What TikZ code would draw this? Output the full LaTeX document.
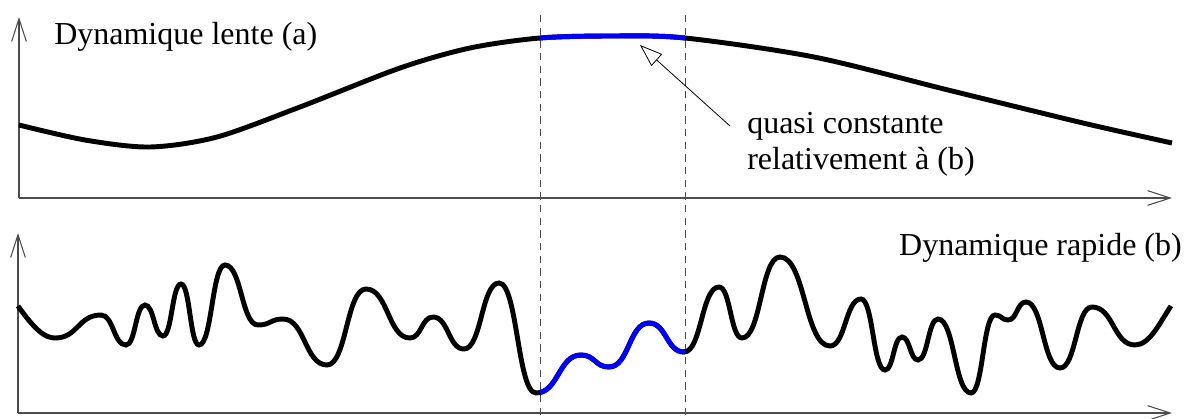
\documentclass[tikz,border=0pt]{standalone}
\usepackage{fontspec}
\setmainfont{Liberation Serif}
\usetikzlibrary{arrows.meta}

\tikzset{
  axe/.style={line width=0.8pt, black!70, -{Straight Barb[length=17pt,width=11pt]}},
  courbe/.style={line width=3.7pt},
  repere/.style={black!70, line width=0.7pt, dash pattern=on 5.5pt off 4pt},
  legende/.style={inner sep=0pt, font=\fontsize{24}{27}\selectfont},
  fleche/.style={line width=0.6pt, -{Triangle[open,length=17pt,width=12pt]}}
}

% dynamique lente
\newcommand\lente{plot[smooth] coordinates {(19,125) (85,140) (150,147) (217,137) (300,107) (400,68) (470,48) (540,38) (612,36) (685,38) (814,57) (948,90) (1083,123) (1172,143)}}
% dynamique rapide
\newcommand\rapide{(18,306) .. controls (35,330) and (45,338) .. (55,338)
  foreach \x/\y [remember=\x as \lx (initially 55), remember=\y as \ly (initially 338)] in
  {101/315, 126/345, 145/305, 163/336, 181/284, 199/345, 225/265, 258/325, 283/319, 327/365,
   366/289, 410/338, 433/317, 464/349, 499/283, 536/393, 581/355, 609/367, 649/323, 684/352,
   719/287, 742/338, 780/257, 830/346, 861/299, 885/370, 902/337, 918/360, 938/319, 971/393,
   995/315, 1008/320, 1026/302, 1060/368, 1092/307, 1135/345}
  { .. controls ({(\lx+\x)/2},\ly) and ({(\lx+\x)/2},\y) .. (\x,\y) }
  .. controls (1150,345) and (1160,322) .. (1171,306)}

\begin{document}
\begin{tikzpicture}[x=0.75pt, y=-0.75pt]
  \useasboundingbox (0,0) rectangle (1184,418);
  % reperes
  \coordinate (oa) at (19,198); \coordinate (ya) at (19,17); \coordinate (xa) at (1172,198);
  \coordinate (ob) at (18,413); \coordinate (yb) at (18,233); \coordinate (xb) at (1172,413);
  \coordinate (g1) at (540,15); \coordinate (g2) at (540,418);
  \coordinate (d1) at (685,15); \coordinate (d2) at (685,418);
  \draw[repere] (g1) -- (g2);
  \draw[repere] (d1) -- (d2);
  \draw[axe] (oa) -- (ya); \draw[axe] (oa) -- (xa);
  \draw[axe] (ob) -- (yb); \draw[axe] (ob) -- (xb);
  % courbes
  \draw[courbe] \lente;
  \draw[courbe] \rapide;
  \begin{scope}
    \clip (g1) rectangle (d2);
    \draw[courbe, blue] \lente;
    \draw[courbe, blue] \rapide;
  \end{scope}
  % textes
  \node[legende, anchor=base west] (titrea) at (54,44) {Dynamique lente (a)};
  \node[legende, anchor=base east] (titreb) at (1182,255) {Dynamique rapide (b)};
  \node[legende, anchor=base west, align=left] (note) at (747,169) {quasi constante\\relativement à (b)};
  \coordinate (queue) at (730,126); \coordinate (pointe) at (640,45);
  \draw[fleche] (queue) -- (pointe);
\end{tikzpicture}
\end{document}
